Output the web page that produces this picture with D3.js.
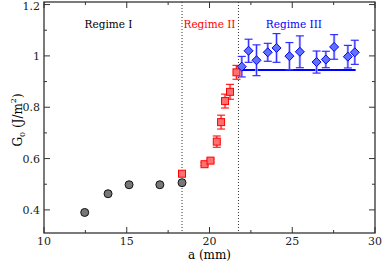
<!DOCTYPE html>
<html>
<head>
<meta charset="utf-8">
<script src="https://cdn.jsdelivr.net/npm/d3@7"></script>
<style>
  body { margin: 0; background: #fff; }
  svg text { font-family: "DejaVu Serif", serif; }
</style>
</head>
<body>
<div id="chart"></div>
<script>
const FRAME_WIDTH = 382;
const FRAME_HEIGHT = 263;
const MARGINS = {left: 44, right: 7, top: 2, bottom: 30};

// Regime I (gray circles)
const regime1_a = [12.46, 13.87, 15.14, 17.0, 18.34];
const regime1_g = [0.390, 0.463, 0.498, 0.498, 0.506];

// Regime II (red squares) with error
const regime2_a = [18.34, 19.7, 20.06, 20.44, 20.7, 20.94, 21.24, 21.63];
const regime2_g = [0.541, 0.578, 0.592, 0.666, 0.742, 0.824, 0.860, 0.936];
const regime2_err = [0.008, 0.006, 0.006, 0.022, 0.027, 0.027, 0.029, 0.027];

// Regime III (blue diamonds) with error
const regime3_a = [21.95, 22.36, 22.84, 23.52, 24.05, 24.83, 25.46, 26.47, 27.03, 27.53, 28.36, 28.78];
const regime3_g = [0.958, 1.020, 0.983, 1.014, 1.031, 0.999, 1.016, 0.976, 0.986, 1.035, 0.997, 1.014];
const regime3_err = [0.040, 0.045, 0.060, 0.035, 0.056, 0.053, 0.062, 0.043, 0.032, 0.048, 0.044, 0.047];

// plateau line and regime boundaries
const plateau_a = [21.9, 28.83];
const plateau_g = 0.945;
const boundaries = [18.34, 21.75];

const x_ticks = [10, 15, 20, 25, 30];
const x_minor = [12.5, 17.5, 22.5, 27.5];
const y_ticks = [0.4, 0.6, 0.8, 1.0, 1.2];
const y_minor = [0.5, 0.7, 0.9, 1.1];

const X_SCALE = d3.scaleLinear().domain([10, 30])
                  .range([MARGINS.left, FRAME_WIDTH - MARGINS.right]);
const Y_SCALE = d3.scaleLinear().domain([0.31, 1.21])
                  .range([FRAME_HEIGHT - MARGINS.bottom, MARGINS.top]);

const svg = d3.select("#chart").append("svg")
              .attr("width", FRAME_WIDTH)
              .attr("height", FRAME_HEIGHT);

const x0 = X_SCALE.range()[0], x1 = X_SCALE.range()[1];
const y0 = Y_SCALE.range()[0], y1 = Y_SCALE.range()[1];

// ticks (inward, on all four sides)
function addTicks(vals, len) {
  vals.forEach((v) => {
    svg.append("line").attr("x1", X_SCALE(v)).attr("x2", X_SCALE(v))
       .attr("y1", y0).attr("y2", y0 - len).attr("stroke", "#333");
    svg.append("line").attr("x1", X_SCALE(v)).attr("x2", X_SCALE(v))
       .attr("y1", y1).attr("y2", y1 + len).attr("stroke", "#333");
  });
}
addTicks(x_ticks, 6);
addTicks(x_minor, 3);

function addYTicks(vals, len) {
  vals.forEach((v) => {
    svg.append("line").attr("y1", Y_SCALE(v)).attr("y2", Y_SCALE(v))
       .attr("x1", x0).attr("x2", x0 + len).attr("stroke", "#333");
    svg.append("line").attr("y1", Y_SCALE(v)).attr("y2", Y_SCALE(v))
       .attr("x1", x1).attr("x2", x1 - len).attr("stroke", "#333");
  });
}
addYTicks(y_ticks, 6);
addYTicks(y_minor, 3);

// frame
svg.append("rect").attr("x", x0).attr("y", y1)
   .attr("width", x1 - x0).attr("height", y0 - y1)
   .attr("fill", "none").attr("stroke", "#333").attr("stroke-width", 1.3);

// tick labels
svg.selectAll(".xl").data(x_ticks).enter().append("text")
   .attr("x", (d) => X_SCALE(d)).attr("y", y0 + 12)
   .attr("text-anchor", "middle").attr("font-size", "11px").attr("fill", "#222")
   .text((d) => d);
svg.selectAll(".yl").data(y_ticks).enter().append("text")
   .attr("x", x0 - 4).attr("y", (d) => Math.max(Y_SCALE(d) + 4, 10))
   .attr("text-anchor", "end").attr("font-size", "11px").attr("fill", "#222")
   .text((d) => d === 1 ? "1" : d.toFixed(1));

// axis titles
svg.append("text").attr("x", X_SCALE(20)).attr("y", FRAME_HEIGHT - 4)
   .attr("text-anchor", "middle").attr("font-size", "12px").text("a (mm)");

const ylab = svg.append("text")
   .attr("transform", "translate(22,120) rotate(-90)")
   .attr("text-anchor", "middle").attr("font-size", "12px");
ylab.append("tspan").text("G");
ylab.append("tspan").attr("font-size", "8px").attr("dy", 3).text("0");
ylab.append("tspan").attr("dy", -3).text(" (J/m");
ylab.append("tspan").attr("font-size", "8px").attr("dy", -6).text("2");
ylab.append("tspan").attr("dy", 6).text(")");

// regime boundaries
svg.selectAll(".bnd").data(boundaries).enter().append("line")
   .attr("x1", (d) => X_SCALE(d)).attr("x2", (d) => X_SCALE(d))
   .attr("y1", y1).attr("y2", y0)
   .attr("stroke", "#333").attr("stroke-dasharray", "1,2");

// regime labels
svg.append("text").attr("x", X_SCALE(13.9)).attr("y", 28).attr("text-anchor", "middle")
   .attr("font-size", "10.5px").attr("fill", "#000").text("Regime I");
svg.append("text").attr("x", X_SCALE(20.0)).attr("y", 28).attr("text-anchor", "middle")
   .attr("font-size", "10.5px").attr("fill", "#ff0000").text("Regime II");
svg.append("text").attr("x", X_SCALE(25.1)).attr("y", 28).attr("text-anchor", "middle")
   .attr("font-size", "10.5px").attr("fill", "#0000ff").text("Regime III");

// plateau line
svg.append("line").attr("x1", X_SCALE(plateau_a[0])).attr("x2", X_SCALE(plateau_a[1]))
   .attr("y1", Y_SCALE(plateau_g)).attr("y2", Y_SCALE(plateau_g))
   .attr("stroke", "#0000ff").attr("stroke-width", 2);

// error bars
function errorBars(as, gs, es, color, light) {
  as.forEach((a, i) => {
    const cx = X_SCALE(a);
    const top = Y_SCALE(gs[i] + es[i]), bot = Y_SCALE(gs[i] - es[i]);
    svg.append("line").attr("x1", cx).attr("x2", cx).attr("y1", top).attr("y2", bot)
       .attr("stroke", light).attr("stroke-width", 2.5);
    svg.append("line").attr("x1", cx).attr("x2", cx).attr("y1", top).attr("y2", bot)
       .attr("stroke", color).attr("stroke-width", 1);
    [top, bot].forEach((yy) => {
      svg.append("line").attr("x1", cx - 4).attr("x2", cx + 4).attr("y1", yy).attr("y2", yy)
         .attr("stroke", color).attr("stroke-width", 1.2);
    });
  });
}
errorBars(regime2_a, regime2_g, regime2_err, "#ff2020", "#ffb0b0");
errorBars(regime3_a, regime3_g, regime3_err, "#3030ff", "#b0b0ff");

// regime I circles
svg.selectAll(".c1").data(regime1_a).enter().append("circle")
   .attr("cx", (d) => X_SCALE(d)).attr("cy", (d, i) => Y_SCALE(regime1_g[i]))
   .attr("r", 4).attr("fill", "#777").attr("stroke", "#111").attr("stroke-width", 1);

// regime II squares
svg.selectAll(".s2").data(regime2_a).enter().append("rect")
   .attr("x", (d) => X_SCALE(d) - 3.5).attr("y", (d, i) => Y_SCALE(regime2_g[i]) - 3.5)
   .attr("width", 7).attr("height", 7)
   .attr("fill", "#ff7070").attr("stroke", "#ff0000").attr("stroke-width", 1);

// regime III diamonds
svg.selectAll(".d3").data(regime3_a).enter().append("path")
   .attr("d", (d, i) => {
     const cx = X_SCALE(d), cy = Y_SCALE(regime3_g[i]), r = 4.5;
     return "M" + cx + "," + (cy - r) + "L" + (cx + r) + "," + cy +
            "L" + cx + "," + (cy + r) + "L" + (cx - r) + "," + cy + "Z";
   })
   .attr("fill", "#6070ff").attr("stroke", "#0000ee").attr("stroke-width", 1);
</script>
</body>
</html>
